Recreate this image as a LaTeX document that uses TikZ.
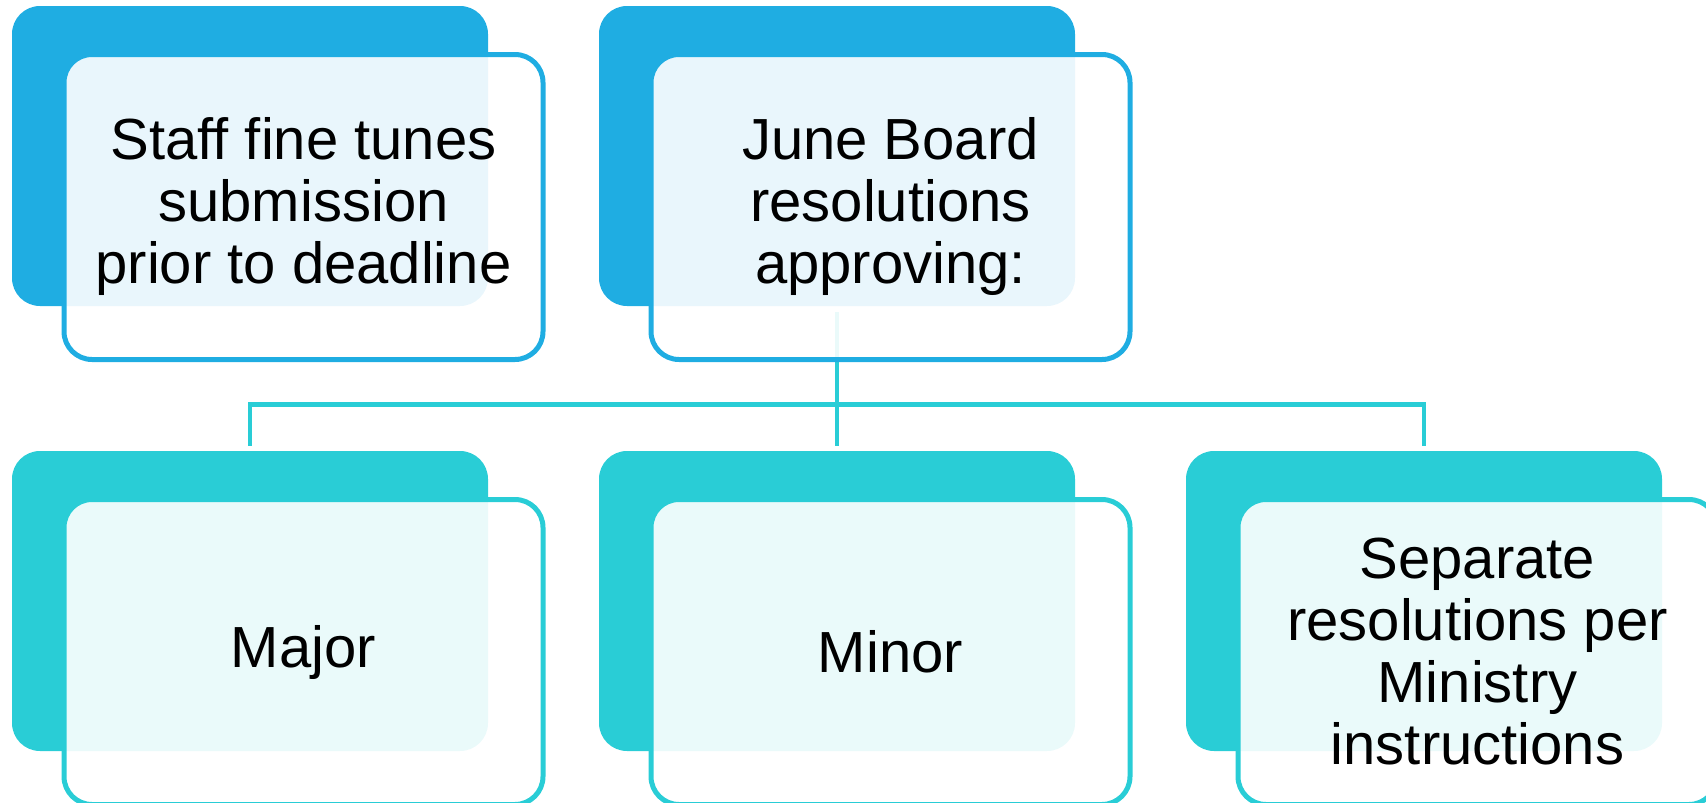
\documentclass[tikz,border=0pt]{standalone}
\usepackage{fontspec}
\setmainfont{Liberation Sans}
\definecolor{cblue}{HTML}{1FADE2}
\definecolor{cteal}{HTML}{29CDD6}
\begin{document}
\begin{tikzpicture}[x=1pt,y=-1pt,
  backbox/.style={minimum width=476pt, minimum height=300pt, inner sep=0pt, outer sep=0pt, rounded corners=28pt, fill=#1},
  frontbox/.style={minimum width=479pt, minimum height=305pt, inner sep=0pt, outer sep=0pt, rounded corners=28pt, draw=#1, line width=5pt, fill=white, fill opacity=0.9, text opacity=1, align=center, font=\fontsize{58}{62}\selectfont},
  conn/.style={draw=cteal, line width=4.3pt}]
\useasboundingbox (0,0) rectangle (1706,803);
% back boxes
\node[backbox=cblue] (stb) at (250,156) {};
\node[backbox=cblue] (jbb) at (837,156) {};
\node[backbox=cteal] (majb) at (250,601) {};
\node[backbox=cteal] (minb) at (837,601) {};
\node[backbox=cteal] (sepb) at (1424,601) {};
% connectors
\coordinate (bus) at (837,404.5);
\draw[conn, shorten <=6pt] (jbb.south) -- (bus);
\draw[conn, shorten >=5pt] (bus) -| (majb.north);
\draw[conn, shorten >=5pt] (bus) -- (minb.north);
\draw[conn, shorten >=5pt] (bus) -| (sepb.north);
% front boxes
\node[frontbox=cblue] (st) at (303.5,207) {Staff fine tunes\\submission\\prior to deadline};
\node[frontbox=cblue] (jb) at (890.5,207) {June Board\\resolutions\\approving:};
\node[frontbox=cteal] (maj) at (303.5,652) {Major};
\node[frontbox=cteal] (min) at (890.5,652) {Minor};
\node[frontbox=cteal] (sep) at (1477.5,652) {Separate\\resolutions per\\Ministry\\instructions};
\end{tikzpicture}
\end{document}
